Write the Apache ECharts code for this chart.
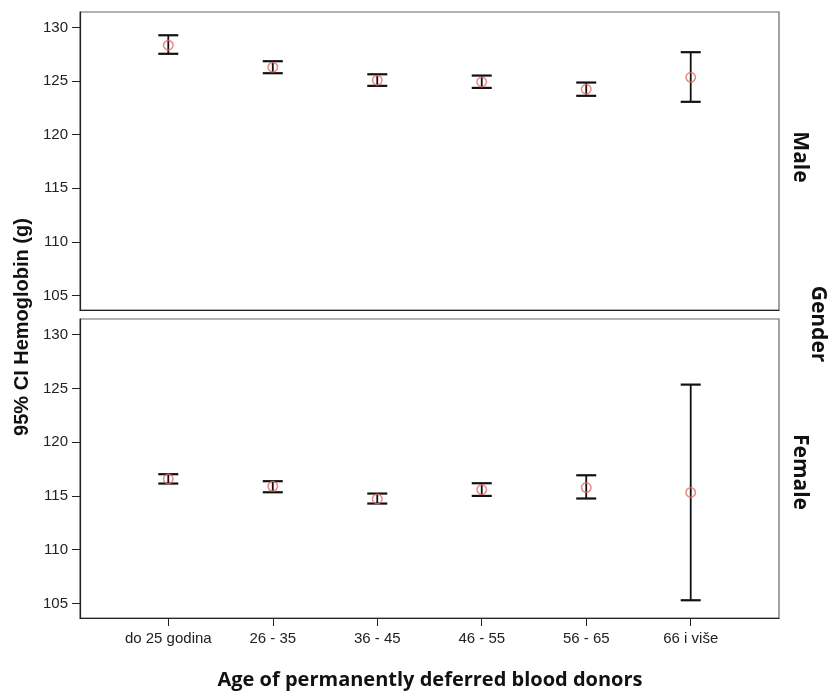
<!DOCTYPE html>
<html><head><meta charset="utf-8">
<script src="https://cdn.jsdelivr.net/npm/echarts@6/dist/echarts.min.js"></script>
<style>html,body{margin:0;padding:0;background:#fff}#c{width:830px;height:698px}</style>
</head><body><div id="c"></div>
<script>
var categories = ['do 25 godina','26 - 35','36 - 45','46 - 55','56 - 65','66 i više'];
var yTicks = [105,110,115,120,125,130];
var maleMean  = [128.35, 126.30, 125.09, 124.93, 124.25, 125.36];
var maleLower = [127.55, 125.74, 124.56, 124.37, 123.63, 123.07];
var maleUpper = [129.28, 126.86, 125.64, 125.52, 124.87, 127.70];
var femaleMean  = [116.58, 115.90, 114.72, 115.59, 115.78, 115.32];
var femaleLower = [116.15, 115.34, 114.29, 115.00, 114.76, 105.30];
var femaleUpper = [117.02, 116.37, 115.22, 116.18, 116.92, 125.35];

var chart = echarts.init(document.getElementById('c'), null, {renderer:'canvas'});
var idx = categories.map(function(_, i){ return i; });
function barData(lo, hi){ return idx.map(function(i){ return [i, lo[i], hi[i]]; }); }
function meanData(m){ return idx.map(function(i){ return [i, m[i]]; }); }
function renderErr(params, api){
  var x = api.value(0);
  var lo = api.coord([x, api.value(1)]);
  var hi = api.coord([x, api.value(2)]);
  var hw = 10;
  var st = {stroke:'#111', lineWidth:2.2};
  return {type:'group', children:[
    {type:'line', shape:{x1:lo[0], y1:lo[1], x2:hi[0], y2:hi[1]}, style:{stroke:'#111', lineWidth:1.8}},
    {type:'line', shape:{x1:lo[0]-hw, y1:lo[1], x2:lo[0]+hw, y2:lo[1]}, style:st},
    {type:'line', shape:{x1:hi[0]-hw, y1:hi[1], x2:hi[0]+hw, y2:hi[1]}, style:st}
  ]};
}
var font = 'Liberation Sans, Arial, sans-serif';
var bfont = '"Open Sans", Lato, sans-serif';
function yAx(gi){
  return {type:'value', gridIndex:gi, min:103.65, max:131.45,
    axisLine:{show:true, onZero:false, lineStyle:{color:'#222', width:1.2}},
    axisTick:{show:true, customValues:yTicks, length:8, lineStyle:{color:'#222'}},
    axisLabel:{show:true, customValues:yTicks, color:'#222', fontSize:15, fontFamily:font, margin:12},
    splitLine:{show:false}};
}
function xAx(gi, labels){
  return {type:'value', gridIndex:gi, min:-0.845, max:5.845,
    axisLine:{show:true, onZero:false, lineStyle:{color:'#222', width:1.2}},
    axisTick:{show:labels, customValues:idx, length:8, lineStyle:{color:'#222'}},
    axisLabel:{show:labels, customValues:idx, color:'#222', fontSize:15, fontFamily:font, margin:13,
      formatter:function(v){ return categories[Math.round(v)]; }},
    splitLine:{show:false}};
}
var markerStyle = {color:'rgba(0,0,0,0)', borderColor:'#e66a66', borderWidth:1.5};
var option = {
  animation:false,
  grid:[
    {left:80, top:12, width:699, height:298, show:true, borderColor:'#666', borderWidth:1.2, backgroundColor:'#fff'},
    {left:80, top:319, width:699, height:299, show:true, borderColor:'#666', borderWidth:1.2, backgroundColor:'#fff'}
  ],
  xAxis:[xAx(0,false), xAx(1,true)],
  yAxis:[yAx(0), yAx(1)],
  series:[
    {type:'custom', xAxisIndex:0, yAxisIndex:0, renderItem:renderErr, data:barData(maleLower, maleUpper), z:2},
    {type:'custom', xAxisIndex:1, yAxisIndex:1, renderItem:renderErr, data:barData(femaleLower, femaleUpper), z:2},
    {type:'scatter', xAxisIndex:0, yAxisIndex:0, data:meanData(maleMean), symbol:'circle', symbolSize:9.5,
      itemStyle:markerStyle, z:3},
    {type:'scatter', xAxisIndex:1, yAxisIndex:1, data:meanData(femaleMean), symbol:'circle', symbolSize:9.5,
      itemStyle:markerStyle, z:3}
  ],
  graphic:[
    {type:'text', x:22, y:327, rotation:Math.PI/2, style:{text:'95% CI Hemoglobin (g)', font:'bold 20px '+font, fill:'#111', textAlign:'center', textVerticalAlign:'middle'}},
    {type:'text', x:800, y:157, rotation:-Math.PI/2, style:{text:'Male', font:'bold 21px '+bfont, fill:'#111', textAlign:'center', textVerticalAlign:'middle'}},
    {type:'text', x:818, y:324, rotation:-Math.PI/2, style:{text:'Gender', font:'bold 21px '+bfont, fill:'#111', textAlign:'center', textVerticalAlign:'middle'}},
    {type:'text', x:800, y:472, rotation:-Math.PI/2, style:{text:'Female', font:'bold 21px '+bfont, fill:'#111', textAlign:'center', textVerticalAlign:'middle'}},
    {type:'text', x:430, y:680, style:{text:'Age of permanently deferred blood donors', font:'bold 20px '+bfont, fill:'#111', textAlign:'center', textVerticalAlign:'middle'}}
  ]
};
chart.setOption(option);
</script></body></html>
